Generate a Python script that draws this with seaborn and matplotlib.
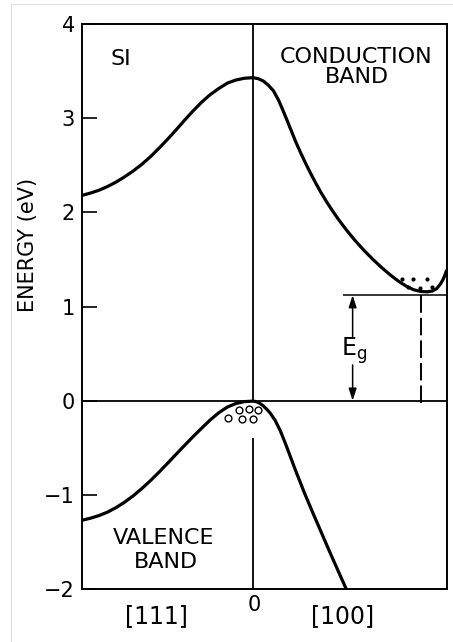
import matplotlib
matplotlib.use("Agg")
import matplotlib.pyplot as plt
from matplotlib.lines import Line2D
import seaborn as sns
import pandas as pd

# ---------------- data ----------------
# wave vector k: -1 = [111] zone edge, 0 = Gamma, ~1 = [100] minimum
cb_k = [-1.00, -0.95, -0.90, -0.85, -0.80, -0.75, -0.70, -0.65, -0.60, -0.55,
        -0.50, -0.45, -0.40, -0.35, -0.30, -0.25, -0.20, -0.15, -0.10, -0.05,
        0.00, 0.03, 0.06, 0.09, 0.12, 0.15, 0.175, 0.20, 0.225, 0.25,
        0.28, 0.31, 0.34, 0.37, 0.40, 0.43, 0.46, 0.50, 0.55, 0.60,
        0.65, 0.70, 0.75, 0.80, 0.85, 0.90, 0.94, 0.98, 1.02, 1.05,
        1.075, 1.095, 1.11, 1.122, 1.132]
cb_E = [2.180, 2.205, 2.235, 2.275, 2.322, 2.378, 2.440, 2.510, 2.590, 2.680,
        2.775, 2.875, 2.978, 3.078, 3.170, 3.250, 3.315, 3.372, 3.405, 3.424,
        3.430, 3.420, 3.395, 3.350, 3.290, 3.190, 3.085, 2.975, 2.862, 2.750,
        2.628, 2.513, 2.404, 2.301, 2.204, 2.114, 2.030, 1.925, 1.805, 1.695,
        1.595, 1.503, 1.418, 1.340, 1.270, 1.212, 1.178, 1.160, 1.156, 1.165,
        1.190, 1.235, 1.280, 1.330, 1.380]
vb_k = [-1.00, -0.95, -0.90, -0.85, -0.80, -0.75, -0.70, -0.65, -0.60, -0.55,
        -0.50, -0.45, -0.40, -0.35, -0.30, -0.25, -0.20, -0.15, -0.10, -0.05,
        0.00, 0.02, 0.04, 0.06, 0.08, 0.10, 0.13, 0.16, 0.19, 0.22,
        0.25, 0.30, 0.35, 0.40, 0.45, 0.50, 0.548]
vb_E = [-1.270, -1.248, -1.220, -1.183, -1.135, -1.077, -1.010, -0.933, -0.850, -0.760,
        -0.666, -0.570, -0.475, -0.382, -0.292, -0.205, -0.128, -0.068, -0.030, -0.010,
        -0.005, -0.010, -0.028, -0.055, -0.090, -0.130, -0.210, -0.320, -0.455, -0.600,
        -0.745, -0.975, -1.190, -1.400, -1.610, -1.815, -2.010]
electron_k = [0.870, 0.937, 1.019, 0.908, 0.977, 1.045]
electron_E = [1.29, 1.29, 1.29, 1.21, 1.20, 1.21]
hole_k = [-0.144, -0.08, -0.066, -0.023, 0.0, 0.031]
hole_E = [-0.18, -0.10, -0.19, -0.09, -0.19, -0.10]
E_gap = 1.12
k_X = 0.982          # conduction-band minimum (dashed line)
k_arrow = 0.583      # E_g arrow position
k_gapline = 0.528    # start of E_g level line
k_min, k_max = -1.0, 1.135
E_min, E_max = -2, 4
yticks = [-2, -1, 0, 1, 2, 3, 4]
ytick_labels = ["\u22122", "\u22121", "0", "1", "2", "3", "4"]
x_labels = ["[111]", "0", "[100]"]
x_label_k = [-0.563, 0.006, 0.526]

# ---------------- style ----------------
sns.set_theme(style="white")
plt.rcParams['font.family'] = ['DejaVu Sans']
plt.rcParams['axes.edgecolor'] = 'black'
plt.rcParams['text.color'] = 'black'
plt.rcParams['axes.labelcolor'] = 'black'
plt.rcParams['ytick.color'] = 'black'

W, H = 453, 642
fig = plt.figure(figsize=(W / 100, H / 100), dpi=100)
ax = fig.add_axes([82 / W, 1 - 589 / H, 365 / W, 565 / H])

# faint scan border
fig.add_artist(Line2D([11 / W, 11 / W], [0, 1 - 4 / H], color='#dedede', lw=0.8))
fig.add_artist(Line2D([11 / W, 1], [1 - 4 / H, 1 - 4 / H], color='#dedede', lw=0.8))

cb = pd.DataFrame({"k": cb_k, "E": cb_E})
vb = pd.DataFrame({"k": vb_k, "E": vb_E})
sns.lineplot(data=cb, x="k", y="E", sort=False, estimator=None, color='black', lw=2.3, ax=ax)
sns.lineplot(data=vb, x="k", y="E", sort=False, estimator=None, color='black', lw=2.3, ax=ax)

# reference lines
ax.axhline(0, color='black', lw=1.3)
ax.vlines(0, 0, E_max, color='black', lw=1.3)
ax.vlines(0, E_min, -0.40, color='black', lw=1.3)
ax.hlines(E_gap, k_gapline, k_max, color='black', lw=1.1)
ax.vlines(k_X, -0.03, E_gap, color='black', lw=1.4, linestyles=(0, (9, 2.6)))

# carriers
sns.scatterplot(x=hole_k, y=hole_E, marker='o', s=24, facecolor='white',
                edgecolor='black', linewidth=1.0, ax=ax, zorder=5)
sns.scatterplot(x=electron_k, y=electron_E, marker='o', s=9, color='black',
                linewidth=0, ax=ax, zorder=5)

# E_g double arrow
ap = dict(arrowstyle="-|>,head_length=0.4,head_width=0.13", color='black', lw=1.1,
          shrinkA=0, shrinkB=0, mutation_scale=18)
ax.annotate("", xy=(k_arrow, E_gap), xytext=(k_arrow, 0.68), arrowprops=ap)
ax.annotate("", xy=(k_arrow, 0), xytext=(k_arrow, 0.38), arrowprops=ap)
ax.text(k_arrow + 0.01, 0.53, r"$\mathregular{E_g}$", fontsize=17, ha='center', va='center')

# labels
ax.text(-0.772, 3.63, "SI", fontsize=16, ha='center', va='center')
ax.text(0.602, 3.65, "CONDUCTION", fontsize=16, ha='center', va='center')
ax.text(0.610, 3.44, "BAND", fontsize=16, ha='center', va='center')
ax.text(-0.52, -1.46, "VALENCE", fontsize=16, ha='center', va='center')
ax.text(-0.51, -1.71, "BAND", fontsize=16, ha='center', va='center')

trans = ax.get_xaxis_transform()
ax.text(x_label_k[0], -0.048, x_labels[0], transform=trans, fontsize=17, ha='center', va='center')
ax.text(x_label_k[1], -0.029, x_labels[1], transform=trans, fontsize=15, ha='center', va='center')
ax.text(x_label_k[2], -0.048, x_labels[2], transform=trans, fontsize=17, ha='center', va='center')

# axes
ax.set_xlim(k_min, k_max)
ax.set_ylim(E_min, E_max)
ax.set_xticks([])
ax.set_yticks(yticks)
ax.set_yticklabels(ytick_labels)
ax.tick_params(axis='y', direction='in', length=11, width=1.2, labelsize=15, pad=5,
               left=True, colors='black')
ax.set_xlabel("")
ax.set_ylabel("ENERGY (eV)", fontsize=15, color='black')
ax.yaxis.set_label_coords(-0.1205, 0.609)
for s in ax.spines.values():
    s.set_linewidth(1.4)
    s.set_color('black')

fig.savefig("out.png", dpi=100, facecolor='white')
